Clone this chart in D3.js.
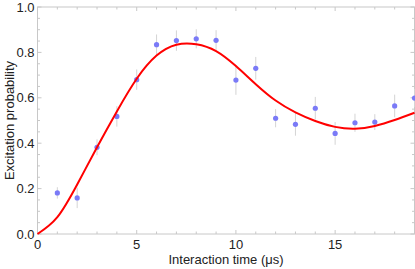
<!DOCTYPE html>
<html>
<head>
<meta charset="utf-8">
<script src="https://cdn.jsdelivr.net/npm/d3@7"></script>
<style>
  body { margin: 0; background: #fff; }
  svg text { font-family: "Liberation Sans", Arial, sans-serif; fill: #222; }
</style>
</head>
<body>
<svg id="chart" width="415" height="269"></svg>
<script>
  // measured points
  var times = [1, 2, 3, 4, 5, 6, 7, 8, 9, 10, 11, 12, 13, 14, 15, 16, 17, 18, 19];
  var probs = [0.181, 0.159, 0.382, 0.518, 0.680, 0.834, 0.852, 0.860, 0.853, 0.678,
               0.730, 0.510, 0.483, 0.554, 0.443, 0.490, 0.493, 0.564, 0.599];
  var errs  = [0.025, 0.045, 0.035, 0.045, 0.045, 0.045, 0.045, 0.042, 0.045, 0.065,
               0.05, 0.04, 0.05, 0.05, 0.05, 0.04, 0.035, 0.05, 0.04];

  // fit curve
  var fitT = [0, 1, 2, 3, 4, 5, 6, 7, 8, 9, 10, 11, 12, 13, 14, 15, 16, 17, 18, 19];
  var fitP = [0, 0.074, 0.218, 0.382, 0.540, 0.684, 0.786, 0.834, 0.836, 0.806,
              0.740, 0.660, 0.588, 0.536, 0.498, 0.472, 0.464, 0.476, 0.502, 0.534];

  var xMajor = [0, 5, 10, 15];
  var yMajor = [0, 0.2, 0.4, 0.6, 0.8, 1.0];

  var svg = d3.select("#chart"),
      margin = {top: 7, right: 0.5, bottom: 35, left: 37.5},
      width = +svg.attr("width") - margin.left - margin.right,
      height = +svg.attr("height") - margin.top - margin.bottom;

  var x = d3.scaleLinear().domain([0, 19]).range([0, width]),
      y = d3.scaleLinear().domain([0, 1]).range([height, 0]);

  var g = svg.append("g")
      .attr("transform", "translate(" + margin.left + "," + margin.top + ")");

  var frameColor = "#c8c8c8";

  // frame
  g.append("rect")
      .attr("width", width)
      .attr("height", height)
      .attr("fill", "none")
      .attr("stroke", frameColor)
      .attr("stroke-width", 1);

  // ticks on all four sides, pointing inward
  var xMinor = d3.range(0, 20, 1), yMinor = d3.range(0, 1.0001, 0.05);
  function tickLen(isMajor) { return isMajor ? 4 : 2.5; }

  xMinor.forEach(function(t) {
    var major = xMajor.indexOf(t) >= 0, L = tickLen(major);
    g.append("line").attr("x1", x(t)).attr("x2", x(t)).attr("y1", height).attr("y2", height - L)
        .attr("stroke", frameColor);
    g.append("line").attr("x1", x(t)).attr("x2", x(t)).attr("y1", 0).attr("y2", L)
        .attr("stroke", frameColor);
  });
  yMinor.forEach(function(v) {
    var major = Math.abs(v * 5 - Math.round(v * 5)) < 1e-6, L = tickLen(major);
    g.append("line").attr("x1", 0).attr("x2", L).attr("y1", y(v)).attr("y2", y(v))
        .attr("stroke", frameColor);
    g.append("line").attr("x1", width).attr("x2", width - L).attr("y1", y(v)).attr("y2", y(v))
        .attr("stroke", frameColor);
  });

  // tick labels
  g.selectAll(".xlab").data(xMajor).enter().append("text")
      .attr("x", function(d) { return x(d); })
      .attr("y", height + 15)
      .attr("text-anchor", "middle")
      .attr("font-size", 13)
      .text(function(d) { return d; });

  g.selectAll(".ylab").data(yMajor).enter().append("text")
      .attr("x", -3)
      .attr("y", function(d) { return y(d) + 4.5; })
      .attr("text-anchor", "end")
      .attr("font-size", 13)
      .text(function(d) { return d.toFixed(1); });

  // axis titles
  svg.append("text")
      .attr("x", margin.left + x(9.5))
      .attr("y", 264)
      .attr("text-anchor", "middle")
      .attr("font-size", 13)
      .text("Interaction time (\u03bcs)");

  svg.append("text")
      .attr("transform", "translate(14," + (margin.top + height / 2) + ") rotate(-90)")
      .attr("text-anchor", "middle")
      .attr("font-size", 13)
      .text("Excitation probability");

  var plot = g.append("g");

  // error bars
  plot.selectAll(".err").data(times).enter().append("line")
      .attr("x1", function(d) { return x(d); })
      .attr("x2", function(d) { return x(d); })
      .attr("y1", function(d, i) { return y(probs[i] - errs[i]); })
      .attr("y2", function(d, i) { return y(probs[i] + errs[i]); })
      .attr("stroke", "#d4d4d4")
      .attr("stroke-width", 1);

  // points
  plot.selectAll(".pt").data(times).enter().append("circle")
      .attr("cx", function(d) { return x(d); })
      .attr("cy", function(d, i) { return y(probs[i]); })
      .attr("r", 2.6)
      .attr("fill", "#7a7af7");

  // fit line
  var line = d3.line()
      .curve(d3.curveNatural)
      .x(function(d) { return x(d); })
      .y(function(d, i) { return y(fitP[i]); });

  plot.append("path")
      .datum(fitT)
      .attr("fill", "none")
      .attr("stroke", "#ff0000")
      .attr("stroke-width", 2)
      .attr("d", line);
</script>
</body>
</html>
